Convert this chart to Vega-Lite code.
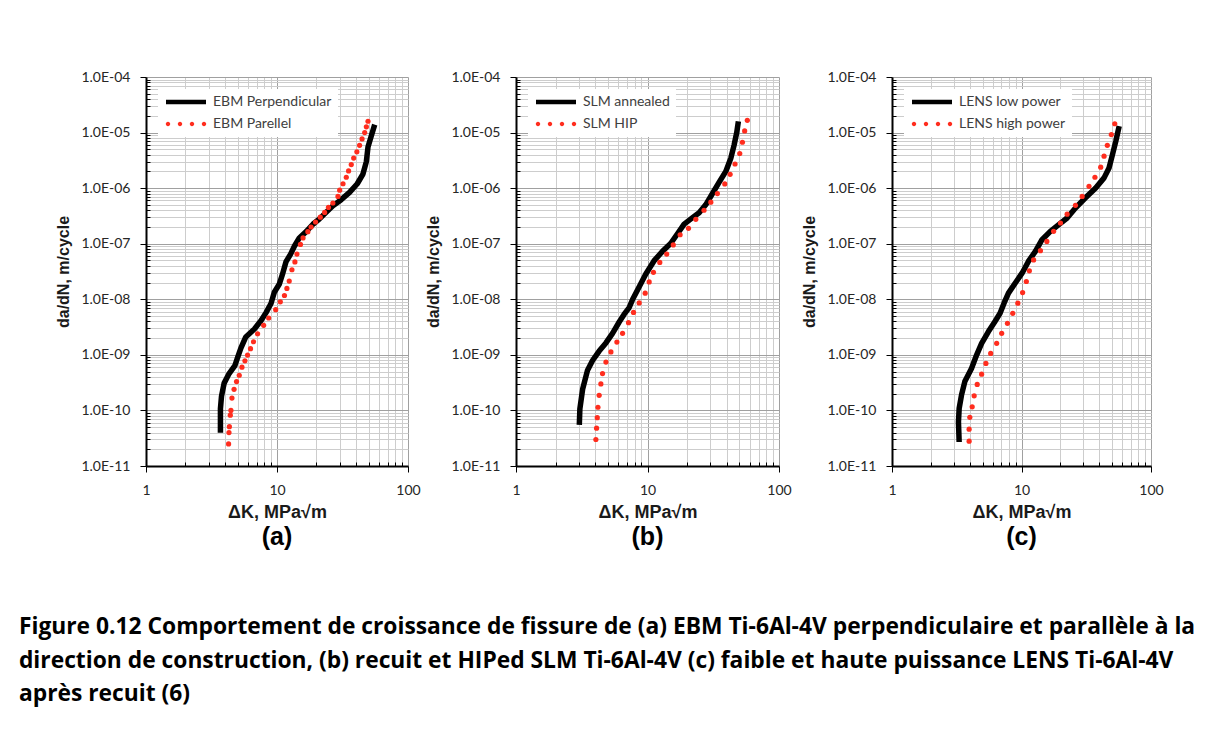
{
  "$schema": "https://vega.github.io/schema/vega-lite/v6.json",
  "background": "white",
  "padding": {"left": 18, "top": 70, "right": 0, "bottom": 20},
  "title": {
    "text": [
      "Figure 0.12 Comportement de croissance de fissure de (a) EBM Ti-6Al-4V perpendiculaire et parallèle à la",
      "direction de construction, (b) recuit et HIPed SLM Ti-6Al-4V (c) faible et haute puissance LENS Ti-6Al-4V",
      "après recuit (6)"
    ],
    "orient": "bottom",
    "anchor": "start",
    "font": "Open Sans",
    "fontSize": 22.8,
    "fontWeight": "bold",
    "lineHeight": 33.5,
    "color": "#000000",
    "offset": 66,
    "dx": -37
  },
  "datasets": {
    "ebm": [
      {"series": "EBM Perpendicular", "dK": 3.70, "dadN": 3.95e-11},
      {"series": "EBM Perpendicular", "dK": 3.70, "dadN": 1.07e-10},
      {"series": "EBM Perpendicular", "dK": 3.77, "dadN": 1.8e-10},
      {"series": "EBM Perpendicular", "dK": 3.95, "dadN": 3.1e-10},
      {"series": "EBM Perpendicular", "dK": 4.31, "dadN": 4.6e-10},
      {"series": "EBM Perpendicular", "dK": 4.77, "dadN": 6.4e-10},
      {"series": "EBM Perpendicular", "dK": 5.00, "dadN": 8.9e-10},
      {"series": "EBM Perpendicular", "dK": 5.30, "dadN": 1.32e-9},
      {"series": "EBM Perpendicular", "dK": 5.78, "dadN": 2.1e-9},
      {"series": "EBM Perpendicular", "dK": 6.70, "dadN": 2.9e-9},
      {"series": "EBM Perpendicular", "dK": 7.54, "dadN": 4.1e-9},
      {"series": "EBM Perpendicular", "dK": 8.23, "dadN": 5.7e-9},
      {"series": "EBM Perpendicular", "dK": 9.00, "dadN": 8.4e-9},
      {"series": "EBM Perpendicular", "dK": 9.54, "dadN": 1.34e-8},
      {"series": "EBM Perpendicular", "dK": 10.4, "dadN": 1.86e-8},
      {"series": "EBM Perpendicular", "dK": 11.0, "dadN": 2.8e-8},
      {"series": "EBM Perpendicular", "dK": 11.7, "dadN": 4.7e-8},
      {"series": "EBM Perpendicular", "dK": 12.7, "dadN": 6.5e-8},
      {"series": "EBM Perpendicular", "dK": 13.6, "dadN": 9.1e-8},
      {"series": "EBM Perpendicular", "dK": 14.8, "dadN": 1.27e-7},
      {"series": "EBM Perpendicular", "dK": 16.7, "dadN": 1.65e-7},
      {"series": "EBM Perpendicular", "dK": 18.8, "dadN": 2.24e-7},
      {"series": "EBM Perpendicular", "dK": 21.1, "dadN": 2.8e-7},
      {"series": "EBM Perpendicular", "dK": 23.7, "dadN": 3.66e-7},
      {"series": "EBM Perpendicular", "dK": 26.7, "dadN": 4.8e-7},
      {"series": "EBM Perpendicular", "dK": 30.9, "dadN": 6.2e-7},
      {"series": "EBM Perpendicular", "dK": 35.8, "dadN": 8.4e-7},
      {"series": "EBM Perpendicular", "dK": 41.0, "dadN": 1.2e-6},
      {"series": "EBM Perpendicular", "dK": 45.3, "dadN": 1.79e-6},
      {"series": "EBM Perpendicular", "dK": 48.1, "dadN": 3.0e-6},
      {"series": "EBM Perpendicular", "dK": 49.5, "dadN": 5.5e-6},
      {"series": "EBM Perpendicular", "dK": 52.5, "dadN": 8.8e-6},
      {"series": "EBM Perpendicular", "dK": 55.7, "dadN": 1.39e-5},
      {"series": "EBM Parellel", "dK": 4.27, "dadN": 2.5e-11},
      {"series": "EBM Parellel", "dK": 4.30, "dadN": 4.0e-11},
      {"series": "EBM Parellel", "dK": 4.33, "dadN": 5.1e-11},
      {"series": "EBM Parellel", "dK": 4.40, "dadN": 8.2e-11},
      {"series": "EBM Parellel", "dK": 4.45, "dadN": 1.0e-10},
      {"series": "EBM Parellel", "dK": 4.53, "dadN": 1.67e-10},
      {"series": "EBM Parellel", "dK": 4.70, "dadN": 2.4e-10},
      {"series": "EBM Parellel", "dK": 4.91, "dadN": 3.3e-10},
      {"series": "EBM Parellel", "dK": 5.15, "dadN": 4.3e-10},
      {"series": "EBM Parellel", "dK": 5.40, "dadN": 6.0e-10},
      {"series": "EBM Parellel", "dK": 5.69, "dadN": 7.8e-10},
      {"series": "EBM Parellel", "dK": 5.96, "dadN": 9.9e-10},
      {"series": "EBM Parellel", "dK": 6.28, "dadN": 1.29e-9},
      {"series": "EBM Parellel", "dK": 6.62, "dadN": 1.72e-9},
      {"series": "EBM Parellel", "dK": 7.11, "dadN": 2.4e-9},
      {"series": "EBM Parellel", "dK": 7.91, "dadN": 3.4e-9},
      {"series": "EBM Parellel", "dK": 8.64, "dadN": 4.6e-9},
      {"series": "EBM Parellel", "dK": 9.77, "dadN": 6.5e-9},
      {"series": "EBM Parellel", "dK": 10.6, "dadN": 9.0e-9},
      {"series": "EBM Parellel", "dK": 11.4, "dadN": 1.17e-8},
      {"series": "EBM Parellel", "dK": 11.9, "dadN": 1.57e-8},
      {"series": "EBM Parellel", "dK": 12.4, "dadN": 2.13e-8},
      {"series": "EBM Parellel", "dK": 13.0, "dadN": 3.4e-8},
      {"series": "EBM Parellel", "dK": 13.7, "dadN": 4.7e-8},
      {"series": "EBM Parellel", "dK": 14.2, "dadN": 6.5e-8},
      {"series": "EBM Parellel", "dK": 15.1, "dadN": 9.7e-8},
      {"series": "EBM Parellel", "dK": 15.8, "dadN": 1.27e-7},
      {"series": "EBM Parellel", "dK": 17.2, "dadN": 1.65e-7},
      {"series": "EBM Parellel", "dK": 18.2, "dadN": 2.0e-7},
      {"series": "EBM Parellel", "dK": 19.7, "dadN": 2.46e-7},
      {"series": "EBM Parellel", "dK": 21.4, "dadN": 3.0e-7},
      {"series": "EBM Parellel", "dK": 23.1, "dadN": 3.66e-7},
      {"series": "EBM Parellel", "dK": 24.7, "dadN": 4.5e-7},
      {"series": "EBM Parellel", "dK": 26.7, "dadN": 5.4e-7},
      {"series": "EBM Parellel", "dK": 29.2, "dadN": 7.1e-7},
      {"series": "EBM Parellel", "dK": 30.1, "dadN": 9.2e-7},
      {"series": "EBM Parellel", "dK": 31.9, "dadN": 1.2e-6},
      {"series": "EBM Parellel", "dK": 33.8, "dadN": 1.57e-6},
      {"series": "EBM Parellel", "dK": 35.2, "dadN": 2.04e-6},
      {"series": "EBM Parellel", "dK": 36.9, "dadN": 2.66e-6},
      {"series": "EBM Parellel", "dK": 38.5, "dadN": 3.47e-6},
      {"series": "EBM Parellel", "dK": 40.7, "dadN": 4.5e-6},
      {"series": "EBM Parellel", "dK": 42.7, "dadN": 5.9e-6},
      {"series": "EBM Parellel", "dK": 44.6, "dadN": 7.7e-6},
      {"series": "EBM Parellel", "dK": 46.7, "dadN": 1.0e-5},
      {"series": "EBM Parellel", "dK": 48.1, "dadN": 1.27e-5},
      {"series": "EBM Parellel", "dK": 49.5, "dadN": 1.6e-5}
    ],
    "slm": [
      {"series": "SLM annealed", "dK": 3.03, "dadN": 5.5e-11},
      {"series": "SLM annealed", "dK": 3.06, "dadN": 1.07e-10},
      {"series": "SLM annealed", "dK": 3.21, "dadN": 2.4e-10},
      {"series": "SLM annealed", "dK": 3.50, "dadN": 5.3e-10},
      {"series": "SLM annealed", "dK": 3.82, "dadN": 7.9e-10},
      {"series": "SLM annealed", "dK": 4.29, "dadN": 1.17e-9},
      {"series": "SLM annealed", "dK": 4.83, "dadN": 1.64e-9},
      {"series": "SLM annealed", "dK": 5.42, "dadN": 2.44e-9},
      {"series": "SLM annealed", "dK": 6.09, "dadN": 3.9e-9},
      {"series": "SLM annealed", "dK": 6.65, "dadN": 5.4e-9},
      {"series": "SLM annealed", "dK": 7.26, "dadN": 7.1e-9},
      {"series": "SLM annealed", "dK": 7.70, "dadN": 9.9e-9},
      {"series": "SLM annealed", "dK": 8.65, "dadN": 1.68e-8},
      {"series": "SLM annealed", "dK": 9.71, "dadN": 2.86e-8},
      {"series": "SLM annealed", "dK": 11.2, "dadN": 4.9e-8},
      {"series": "SLM annealed", "dK": 13.0, "dadN": 7.3e-8},
      {"series": "SLM annealed", "dK": 15.0, "dadN": 1.01e-7},
      {"series": "SLM annealed", "dK": 16.9, "dadN": 1.51e-7},
      {"series": "SLM annealed", "dK": 19.0, "dadN": 2.25e-7},
      {"series": "SLM annealed", "dK": 22.0, "dadN": 2.94e-7},
      {"series": "SLM annealed", "dK": 24.7, "dadN": 3.6e-7},
      {"series": "SLM annealed", "dK": 27.7, "dadN": 5.0e-7},
      {"series": "SLM annealed", "dK": 31.2, "dadN": 8.0e-7},
      {"series": "SLM annealed", "dK": 35.0, "dadN": 1.27e-6},
      {"series": "SLM annealed", "dK": 39.4, "dadN": 2.0e-6},
      {"series": "SLM annealed", "dK": 43.0, "dadN": 3.45e-6},
      {"series": "SLM annealed", "dK": 45.5, "dadN": 5.9e-6},
      {"series": "SLM annealed", "dK": 47.7, "dadN": 1.0e-5},
      {"series": "SLM annealed", "dK": 49.1, "dadN": 1.59e-5},
      {"series": "SLM HIP", "dK": 4.05, "dadN": 3.0e-11},
      {"series": "SLM HIP", "dK": 4.10, "dadN": 4.8e-11},
      {"series": "SLM HIP", "dK": 4.15, "dadN": 7.4e-11},
      {"series": "SLM HIP", "dK": 4.20, "dadN": 1.14e-10},
      {"series": "SLM HIP", "dK": 4.29, "dadN": 1.87e-10},
      {"series": "SLM HIP", "dK": 4.42, "dadN": 3.0e-10},
      {"series": "SLM HIP", "dK": 4.55, "dadN": 4.6e-10},
      {"series": "SLM HIP", "dK": 4.83, "dadN": 7.4e-10},
      {"series": "SLM HIP", "dK": 5.27, "dadN": 1.13e-9},
      {"series": "SLM HIP", "dK": 5.85, "dadN": 1.70e-9},
      {"series": "SLM HIP", "dK": 6.46, "dadN": 2.44e-9},
      {"series": "SLM HIP", "dK": 7.17, "dadN": 3.8e-9},
      {"series": "SLM HIP", "dK": 7.83, "dadN": 5.8e-9},
      {"series": "SLM HIP", "dK": 8.65, "dadN": 8.6e-9},
      {"series": "SLM HIP", "dK": 9.60, "dadN": 1.29e-8},
      {"series": "SLM HIP", "dK": 10.3, "dadN": 2.05e-8},
      {"series": "SLM HIP", "dK": 11.1, "dadN": 3.06e-8},
      {"series": "SLM HIP", "dK": 12.4, "dadN": 4.6e-8},
      {"series": "SLM HIP", "dK": 14.0, "dadN": 6.5e-8},
      {"series": "SLM HIP", "dK": 15.7, "dadN": 9.5e-8},
      {"series": "SLM HIP", "dK": 17.7, "dadN": 1.45e-7},
      {"series": "SLM HIP", "dK": 20.5, "dadN": 1.89e-7},
      {"series": "SLM HIP", "dK": 23.3, "dadN": 2.75e-7},
      {"series": "SLM HIP", "dK": 26.9, "dadN": 4.0e-7},
      {"series": "SLM HIP", "dK": 30.3, "dadN": 5.6e-7},
      {"series": "SLM HIP", "dK": 34.0, "dadN": 8.0e-7},
      {"series": "SLM HIP", "dK": 38.7, "dadN": 1.19e-6},
      {"series": "SLM HIP", "dK": 42.5, "dadN": 1.77e-6},
      {"series": "SLM HIP", "dK": 46.3, "dadN": 2.72e-6},
      {"series": "SLM HIP", "dK": 50.3, "dadN": 4.2e-6},
      {"series": "SLM HIP", "dK": 52.7, "dadN": 6.7e-6},
      {"series": "SLM HIP", "dK": 54.8, "dadN": 1.07e-5},
      {"series": "SLM HIP", "dK": 57.4, "dadN": 1.66e-5}
    ],
    "lens": [
      {"series": "LENS low power", "dK": 3.30, "dadN": 2.7e-11},
      {"series": "LENS low power", "dK": 3.26, "dadN": 6.2e-11},
      {"series": "LENS low power", "dK": 3.30, "dadN": 1.08e-10},
      {"series": "LENS low power", "dK": 3.44, "dadN": 1.88e-10},
      {"series": "LENS low power", "dK": 3.65, "dadN": 3.3e-10},
      {"series": "LENS low power", "dK": 4.11, "dadN": 5.7e-10},
      {"series": "LENS low power", "dK": 4.50, "dadN": 9.9e-10},
      {"series": "LENS low power", "dK": 4.92, "dadN": 1.61e-9},
      {"series": "LENS low power", "dK": 5.54, "dadN": 2.6e-9},
      {"series": "LENS low power", "dK": 6.24, "dadN": 4.0e-9},
      {"series": "LENS low power", "dK": 6.83, "dadN": 5.6e-9},
      {"series": "LENS low power", "dK": 7.33, "dadN": 8.5e-9},
      {"series": "LENS low power", "dK": 7.93, "dadN": 1.29e-8},
      {"series": "LENS low power", "dK": 8.93, "dadN": 1.95e-8},
      {"series": "LENS low power", "dK": 10.1, "dadN": 2.95e-8},
      {"series": "LENS low power", "dK": 11.3, "dadN": 4.8e-8},
      {"series": "LENS low power", "dK": 12.8, "dadN": 7.3e-8},
      {"series": "LENS low power", "dK": 14.4, "dadN": 1.18e-7},
      {"series": "LENS low power", "dK": 16.7, "dadN": 1.67e-7},
      {"series": "LENS low power", "dK": 19.4, "dadN": 2.2e-7},
      {"series": "LENS low power", "dK": 22.5, "dadN": 2.9e-7},
      {"series": "LENS low power", "dK": 26.1, "dadN": 4.4e-7},
      {"series": "LENS low power", "dK": 31.2, "dadN": 6.7e-7},
      {"series": "LENS low power", "dK": 37.4, "dadN": 1.01e-6},
      {"series": "LENS low power", "dK": 43.4, "dadN": 1.53e-6},
      {"series": "LENS low power", "dK": 47.4, "dadN": 2.3e-6},
      {"series": "LENS low power", "dK": 50.4, "dadN": 4.0e-6},
      {"series": "LENS low power", "dK": 53.5, "dadN": 7.0e-6},
      {"series": "LENS low power", "dK": 56.8, "dadN": 1.31e-5},
      {"series": "LENS high power", "dK": 3.94, "dadN": 2.8e-11},
      {"series": "LENS high power", "dK": 3.94, "dadN": 4.6e-11},
      {"series": "LENS high power", "dK": 3.99, "dadN": 7.5e-11},
      {"series": "LENS high power", "dK": 4.16, "dadN": 1.16e-10},
      {"series": "LENS high power", "dK": 4.31, "dadN": 1.83e-10},
      {"series": "LENS high power", "dK": 4.55, "dadN": 2.94e-10},
      {"series": "LENS high power", "dK": 4.92, "dadN": 4.5e-10},
      {"series": "LENS high power", "dK": 5.31, "dadN": 7.0e-10},
      {"series": "LENS high power", "dK": 5.78, "dadN": 1.06e-9},
      {"series": "LENS high power", "dK": 6.43, "dadN": 1.61e-9},
      {"series": "LENS high power", "dK": 7.03, "dadN": 2.44e-9},
      {"series": "LENS high power", "dK": 7.79, "dadN": 3.7e-9},
      {"series": "LENS high power", "dK": 8.56, "dadN": 5.6e-9},
      {"series": "LENS high power", "dK": 9.37, "dadN": 8.5e-9},
      {"series": "LENS high power", "dK": 10.2, "dadN": 1.32e-8},
      {"series": "LENS high power", "dK": 10.9, "dadN": 2.09e-8},
      {"series": "LENS high power", "dK": 11.5, "dadN": 3.25e-8},
      {"series": "LENS high power", "dK": 12.4, "dadN": 5.1e-8},
      {"series": "LENS high power", "dK": 14.0, "dadN": 7.5e-8},
      {"series": "LENS high power", "dK": 15.7, "dadN": 1.1e-7},
      {"series": "LENS high power", "dK": 17.7, "dadN": 1.67e-7},
      {"series": "LENS high power", "dK": 20.0, "dadN": 2.36e-7},
      {"series": "LENS high power", "dK": 22.5, "dadN": 3.4e-7},
      {"series": "LENS high power", "dK": 26.1, "dadN": 4.9e-7},
      {"series": "LENS high power", "dK": 29.4, "dadN": 7.1e-7},
      {"series": "LENS high power", "dK": 33.2, "dadN": 1.08e-6},
      {"series": "LENS high power", "dK": 36.9, "dadN": 1.57e-6},
      {"series": "LENS high power", "dK": 40.9, "dadN": 2.38e-6},
      {"series": "LENS high power", "dK": 43.4, "dadN": 3.76e-6},
      {"series": "LENS high power", "dK": 46.0, "dadN": 5.9e-6},
      {"series": "LENS high power", "dK": 49.4, "dadN": 9.2e-6},
      {"series": "LENS high power", "dK": 52.5, "dadN": 1.44e-5}
    ]
  },
  "spacing": 4,
  "hconcat": [
    {
      "width": 262,
      "height": 389,
      "title": {"text": "(a)", "orient": "bottom", "frame": "group", "anchor": "middle", "font": "Liberation Sans", "fontSize": 25, "fontWeight": "bold", "color": "#000000", "offset": 4},
      "data": {"name": "ebm"},
      "layer": [
        {
          "transform": [{"filter": "datum.series === 'EBM Perpendicular'"}],
          "mark": {"type": "line", "color": "#000000", "strokeWidth": 5.5, "strokeCap": "butt", "strokeJoin": "round"},
          "encoding": {
            "x": {"field": "dK", "type": "quantitative", "scale": {"type": "log", "domain": [1, 100], "nice": false},
              "axis": {"title": "ΔK, MPa√m", "values": [1,2,3,4,5,6,7,8,9,10,20,30,40,50,60,70,80,90,100],
                "labelExpr": "(datum.value == 1 || datum.value == 10 || datum.value == 100) ? datum.value + '' : ''",
                "tickSize": {"condition": {"test": "datum.value == 1 || datum.value == 10 || datum.value == 100", "value": 6}, "value": -4},
                "gridColor": {"condition": {"test": "datum.value == 1 || datum.value == 10 || datum.value == 100", "value": "#a0a0a0"}, "value": "#cdcdcd"},
                "labelPadding": 11, "titlePadding": 6}},
            "y": {"field": "dadN", "type": "quantitative", "scale": {"type": "log", "domain": [1e-11, 1e-4], "nice": false},
              "axis": {"title": "da/dN, m/cycle",
                "values": [1e-11,2e-11,3e-11,4e-11,5e-11,6e-11,7e-11,8e-11,9e-11,1e-10,2e-10,3e-10,4e-10,5e-10,6e-10,7e-10,8e-10,9e-10,1e-9,2e-9,3e-9,4e-9,5e-9,6e-9,7e-9,8e-9,9e-9,1e-8,2e-8,3e-8,4e-8,5e-8,6e-8,7e-8,8e-8,9e-8,1e-7,2e-7,3e-7,4e-7,5e-7,6e-7,7e-7,8e-7,9e-7,1e-6,2e-6,3e-6,4e-6,5e-6,6e-6,7e-6,8e-6,9e-6,1e-5,2e-5,3e-5,4e-5,5e-5,6e-5,7e-5,8e-5,9e-5,1e-4],
                "labelExpr": "abs(log(datum.value)/LN10 - round(log(datum.value)/LN10)) < 0.001 ? '1.0E-' + (round(-log(datum.value)/LN10) < 10 ? '0' : '') + round(-log(datum.value)/LN10) : ''",
                "tickSize": {"condition": {"test": "abs(log(datum.value)/LN10 - round(log(datum.value)/LN10)) < 0.001", "value": 6}, "value": -4},
                "gridColor": {"condition": {"test": "abs(log(datum.value)/LN10 - round(log(datum.value)/LN10)) < 0.001", "value": "#a0a0a0"}, "value": "#cdcdcd"},
                "labelPadding": 10, "titlePadding": 9}},
            "order": {"field": "dadN", "type": "quantitative"}
          }
        },
        {
          "transform": [{"filter": "datum.series === 'EBM Parellel'"}],
          "mark": {"type": "point", "filled": true, "size": 27, "opacity": 1, "color": "#ff2d1e"},
          "encoding": {
            "x": {"field": "dK", "type": "quantitative"},
            "y": {"field": "dadN", "type": "quantitative"}
          }
        },
        {
          "transform": [{"filter": "false"}],
          "mark": {"type": "point", "filled": true},
          "encoding": {
            "x": {"field": "dK", "type": "quantitative"},
            "y": {"field": "dadN", "type": "quantitative"},
            "color": {"field": "series", "type": "nominal",
              "scale": {"domain": ["EBM Perpendicular", "EBM Parellel"], "range": ["#000000", "#ff2d1e"]},
              "legend": {"title": null, "orient": "top-left", "offset": 12}},
            "shape": {"field": "series", "type": "nominal",
              "scale": {"domain": ["EBM Perpendicular", "EBM Parellel"], "range": ["M-1,-0.45H7V0.45H-1Z", "M-0.16,0A0.44,0.44,0,1,1,-1.04,0A0.44,0.44,0,1,1,-0.16,0ZM2.24,0A0.44,0.44,0,1,1,1.36,0A0.44,0.44,0,1,1,2.24,0ZM4.64,0A0.44,0.44,0,1,1,3.76,0A0.44,0.44,0,1,1,4.64,0ZM7.04,0A0.44,0.44,0,1,1,6.16,0A0.44,0.44,0,1,1,7.04,0Z"]},
              "legend": {"title": null, "orient": "top-left", "offset": 12}}
          }
        }
      ]
    },
    {
      "spacing": 9,
      "hconcat": [
        {
          "width": 263,
          "height": 389,
          "title": {"text": "(b)", "orient": "bottom", "frame": "group", "anchor": "middle", "font": "Liberation Sans", "fontSize": 25, "fontWeight": "bold", "color": "#000000", "offset": 4},
          "data": {"name": "slm"},
          "layer": [
            {
              "transform": [{"filter": "datum.series === 'SLM annealed'"}],
              "mark": {"type": "line", "color": "#000000", "strokeWidth": 5.5, "strokeCap": "butt", "strokeJoin": "round"},
              "encoding": {
                "x": {"field": "dK", "type": "quantitative", "scale": {"type": "log", "domain": [1, 100], "nice": false},
                  "axis": {"title": "ΔK, MPa√m", "values": [1,2,3,4,5,6,7,8,9,10,20,30,40,50,60,70,80,90,100],
                    "labelExpr": "(datum.value == 1 || datum.value == 10 || datum.value == 100) ? datum.value + '' : ''",
                    "tickSize": {"condition": {"test": "datum.value == 1 || datum.value == 10 || datum.value == 100", "value": 6}, "value": -4},
                    "gridColor": {"condition": {"test": "datum.value == 1 || datum.value == 10 || datum.value == 100", "value": "#a0a0a0"}, "value": "#cdcdcd"},
                    "labelPadding": 11, "titlePadding": 6}},
                "y": {"field": "dadN", "type": "quantitative", "scale": {"type": "log", "domain": [1e-11, 1e-4], "nice": false},
                  "axis": {"title": "da/dN, m/cycle",
                    "values": [1e-11,2e-11,3e-11,4e-11,5e-11,6e-11,7e-11,8e-11,9e-11,1e-10,2e-10,3e-10,4e-10,5e-10,6e-10,7e-10,8e-10,9e-10,1e-9,2e-9,3e-9,4e-9,5e-9,6e-9,7e-9,8e-9,9e-9,1e-8,2e-8,3e-8,4e-8,5e-8,6e-8,7e-8,8e-8,9e-8,1e-7,2e-7,3e-7,4e-7,5e-7,6e-7,7e-7,8e-7,9e-7,1e-6,2e-6,3e-6,4e-6,5e-6,6e-6,7e-6,8e-6,9e-6,1e-5,2e-5,3e-5,4e-5,5e-5,6e-5,7e-5,8e-5,9e-5,1e-4],
                    "labelExpr": "abs(log(datum.value)/LN10 - round(log(datum.value)/LN10)) < 0.001 ? '1.0E-' + (round(-log(datum.value)/LN10) < 10 ? '0' : '') + round(-log(datum.value)/LN10) : ''",
                    "tickSize": {"condition": {"test": "abs(log(datum.value)/LN10 - round(log(datum.value)/LN10)) < 0.001", "value": 6}, "value": -4},
                    "gridColor": {"condition": {"test": "abs(log(datum.value)/LN10 - round(log(datum.value)/LN10)) < 0.001", "value": "#a0a0a0"}, "value": "#cdcdcd"},
                    "labelPadding": 10, "titlePadding": 9}},
                "order": {"field": "dadN", "type": "quantitative"}
              }
            },
            {
              "transform": [{"filter": "datum.series === 'SLM HIP'"}],
              "mark": {"type": "point", "filled": true, "size": 27, "opacity": 1, "color": "#ff2d1e"},
              "encoding": {
                "x": {"field": "dK", "type": "quantitative"},
                "y": {"field": "dadN", "type": "quantitative"}
              }
            },
            {
              "transform": [{"filter": "false"}],
              "mark": {"type": "point", "filled": true},
              "encoding": {
                "x": {"field": "dK", "type": "quantitative"},
                "y": {"field": "dadN", "type": "quantitative"},
                "color": {"field": "series", "type": "nominal",
                  "scale": {"domain": ["SLM annealed", "SLM HIP"], "range": ["#000000", "#ff2d1e"]},
                  "legend": {"title": null, "orient": "top-left", "offset": 12}},
                "shape": {"field": "series", "type": "nominal",
                  "scale": {"domain": ["SLM annealed", "SLM HIP"], "range": ["M-1,-0.45H7V0.45H-1Z", "M-0.16,0A0.44,0.44,0,1,1,-1.04,0A0.44,0.44,0,1,1,-0.16,0ZM2.24,0A0.44,0.44,0,1,1,1.36,0A0.44,0.44,0,1,1,2.24,0ZM4.64,0A0.44,0.44,0,1,1,3.76,0A0.44,0.44,0,1,1,4.64,0ZM7.04,0A0.44,0.44,0,1,1,6.16,0A0.44,0.44,0,1,1,7.04,0Z"]},
                  "legend": {"title": null, "orient": "top-left", "offset": 12}}
              }
            }
          ]
        },
        {
          "width": 259,
          "height": 389,
          "title": {"text": "(c)", "orient": "bottom", "frame": "group", "anchor": "middle", "font": "Liberation Sans", "fontSize": 25, "fontWeight": "bold", "color": "#000000", "offset": 4},
          "data": {"name": "lens"},
          "layer": [
            {
              "transform": [{"filter": "datum.series === 'LENS low power'"}],
              "mark": {"type": "line", "color": "#000000", "strokeWidth": 5.5, "strokeCap": "butt", "strokeJoin": "round"},
              "encoding": {
                "x": {"field": "dK", "type": "quantitative", "scale": {"type": "log", "domain": [1, 100], "nice": false},
                  "axis": {"title": "ΔK, MPa√m", "values": [1,2,3,4,5,6,7,8,9,10,20,30,40,50,60,70,80,90,100],
                    "labelExpr": "(datum.value == 1 || datum.value == 10 || datum.value == 100) ? datum.value + '' : ''",
                    "tickSize": {"condition": {"test": "datum.value == 1 || datum.value == 10 || datum.value == 100", "value": 6}, "value": -4},
                    "gridColor": {"condition": {"test": "datum.value == 1 || datum.value == 10 || datum.value == 100", "value": "#a0a0a0"}, "value": "#cdcdcd"},
                    "labelPadding": 11, "titlePadding": 6}},
                "y": {"field": "dadN", "type": "quantitative", "scale": {"type": "log", "domain": [1e-11, 1e-4], "nice": false},
                  "axis": {"title": "da/dN, m/cycle",
                    "values": [1e-11,2e-11,3e-11,4e-11,5e-11,6e-11,7e-11,8e-11,9e-11,1e-10,2e-10,3e-10,4e-10,5e-10,6e-10,7e-10,8e-10,9e-10,1e-9,2e-9,3e-9,4e-9,5e-9,6e-9,7e-9,8e-9,9e-9,1e-8,2e-8,3e-8,4e-8,5e-8,6e-8,7e-8,8e-8,9e-8,1e-7,2e-7,3e-7,4e-7,5e-7,6e-7,7e-7,8e-7,9e-7,1e-6,2e-6,3e-6,4e-6,5e-6,6e-6,7e-6,8e-6,9e-6,1e-5,2e-5,3e-5,4e-5,5e-5,6e-5,7e-5,8e-5,9e-5,1e-4],
                    "labelExpr": "abs(log(datum.value)/LN10 - round(log(datum.value)/LN10)) < 0.001 ? '1.0E-' + (round(-log(datum.value)/LN10) < 10 ? '0' : '') + round(-log(datum.value)/LN10) : ''",
                    "tickSize": {"condition": {"test": "abs(log(datum.value)/LN10 - round(log(datum.value)/LN10)) < 0.001", "value": 6}, "value": -4},
                    "gridColor": {"condition": {"test": "abs(log(datum.value)/LN10 - round(log(datum.value)/LN10)) < 0.001", "value": "#a0a0a0"}, "value": "#cdcdcd"},
                    "labelPadding": 10, "titlePadding": 9}},
                "order": {"field": "dadN", "type": "quantitative"}
              }
            },
            {
              "transform": [{"filter": "datum.series === 'LENS high power'"}],
              "mark": {"type": "point", "filled": true, "size": 27, "opacity": 1, "color": "#ff2d1e"},
              "encoding": {
                "x": {"field": "dK", "type": "quantitative"},
                "y": {"field": "dadN", "type": "quantitative"}
              }
            },
            {
              "transform": [{"filter": "false"}],
              "mark": {"type": "point", "filled": true},
              "encoding": {
                "x": {"field": "dK", "type": "quantitative"},
                "y": {"field": "dadN", "type": "quantitative"},
                "color": {"field": "series", "type": "nominal",
                  "scale": {"domain": ["LENS low power", "LENS high power"], "range": ["#000000", "#ff2d1e"]},
                  "legend": {"title": null, "orient": "top-left", "offset": 12}},
                "shape": {"field": "series", "type": "nominal",
                  "scale": {"domain": ["LENS low power", "LENS high power"], "range": ["M-1,-0.45H7V0.45H-1Z", "M-0.16,0A0.44,0.44,0,1,1,-1.04,0A0.44,0.44,0,1,1,-0.16,0ZM2.24,0A0.44,0.44,0,1,1,1.36,0A0.44,0.44,0,1,1,2.24,0ZM4.64,0A0.44,0.44,0,1,1,3.76,0A0.44,0.44,0,1,1,4.64,0ZM7.04,0A0.44,0.44,0,1,1,6.16,0A0.44,0.44,0,1,1,7.04,0Z"]},
                  "legend": {"title": null, "orient": "top-left", "offset": 12}}
              }
            }
          ]
        }
      ],
      "resolve": {"scale": {"color": "independent", "shape": "independent"}, "legend": {"color": "independent", "shape": "independent"}}
    }
  ],
  "resolve": {"scale": {"color": "independent", "shape": "independent"}, "legend": {"color": "independent", "shape": "independent"}},
  "config": {
    "view": {"stroke": null},
    "axis": {
      "domainColor": "#000000", "domainWidth": 2, "tickColor": "#000000", "tickWidth": 1,
      "grid": true, "gridWidth": 1,
      "labelFont": "Lato", "labelFontSize": 14, "labelColor": "#262626",
      "titleFont": "Liberation Sans", "titleFontWeight": "bold", "titleFontSize": 16, "titleColor": "#1a1a1a",
      "labelOverlap": false, "labelFlush": false
    },
    "axisX": {"titleFontSize": 18},
    "legend": {
      "padding": 6, "fillColor": "#ffffff",
      "labelFont": "Lato", "labelFontSize": 14, "labelColor": "#404040", "labelLimit": 300,
      "labelOffset": 35, "symbolSize": 100, "symbolStrokeWidth": 0, "symbolOpacity": 1, "rowPadding": 8
    }
  }
}
